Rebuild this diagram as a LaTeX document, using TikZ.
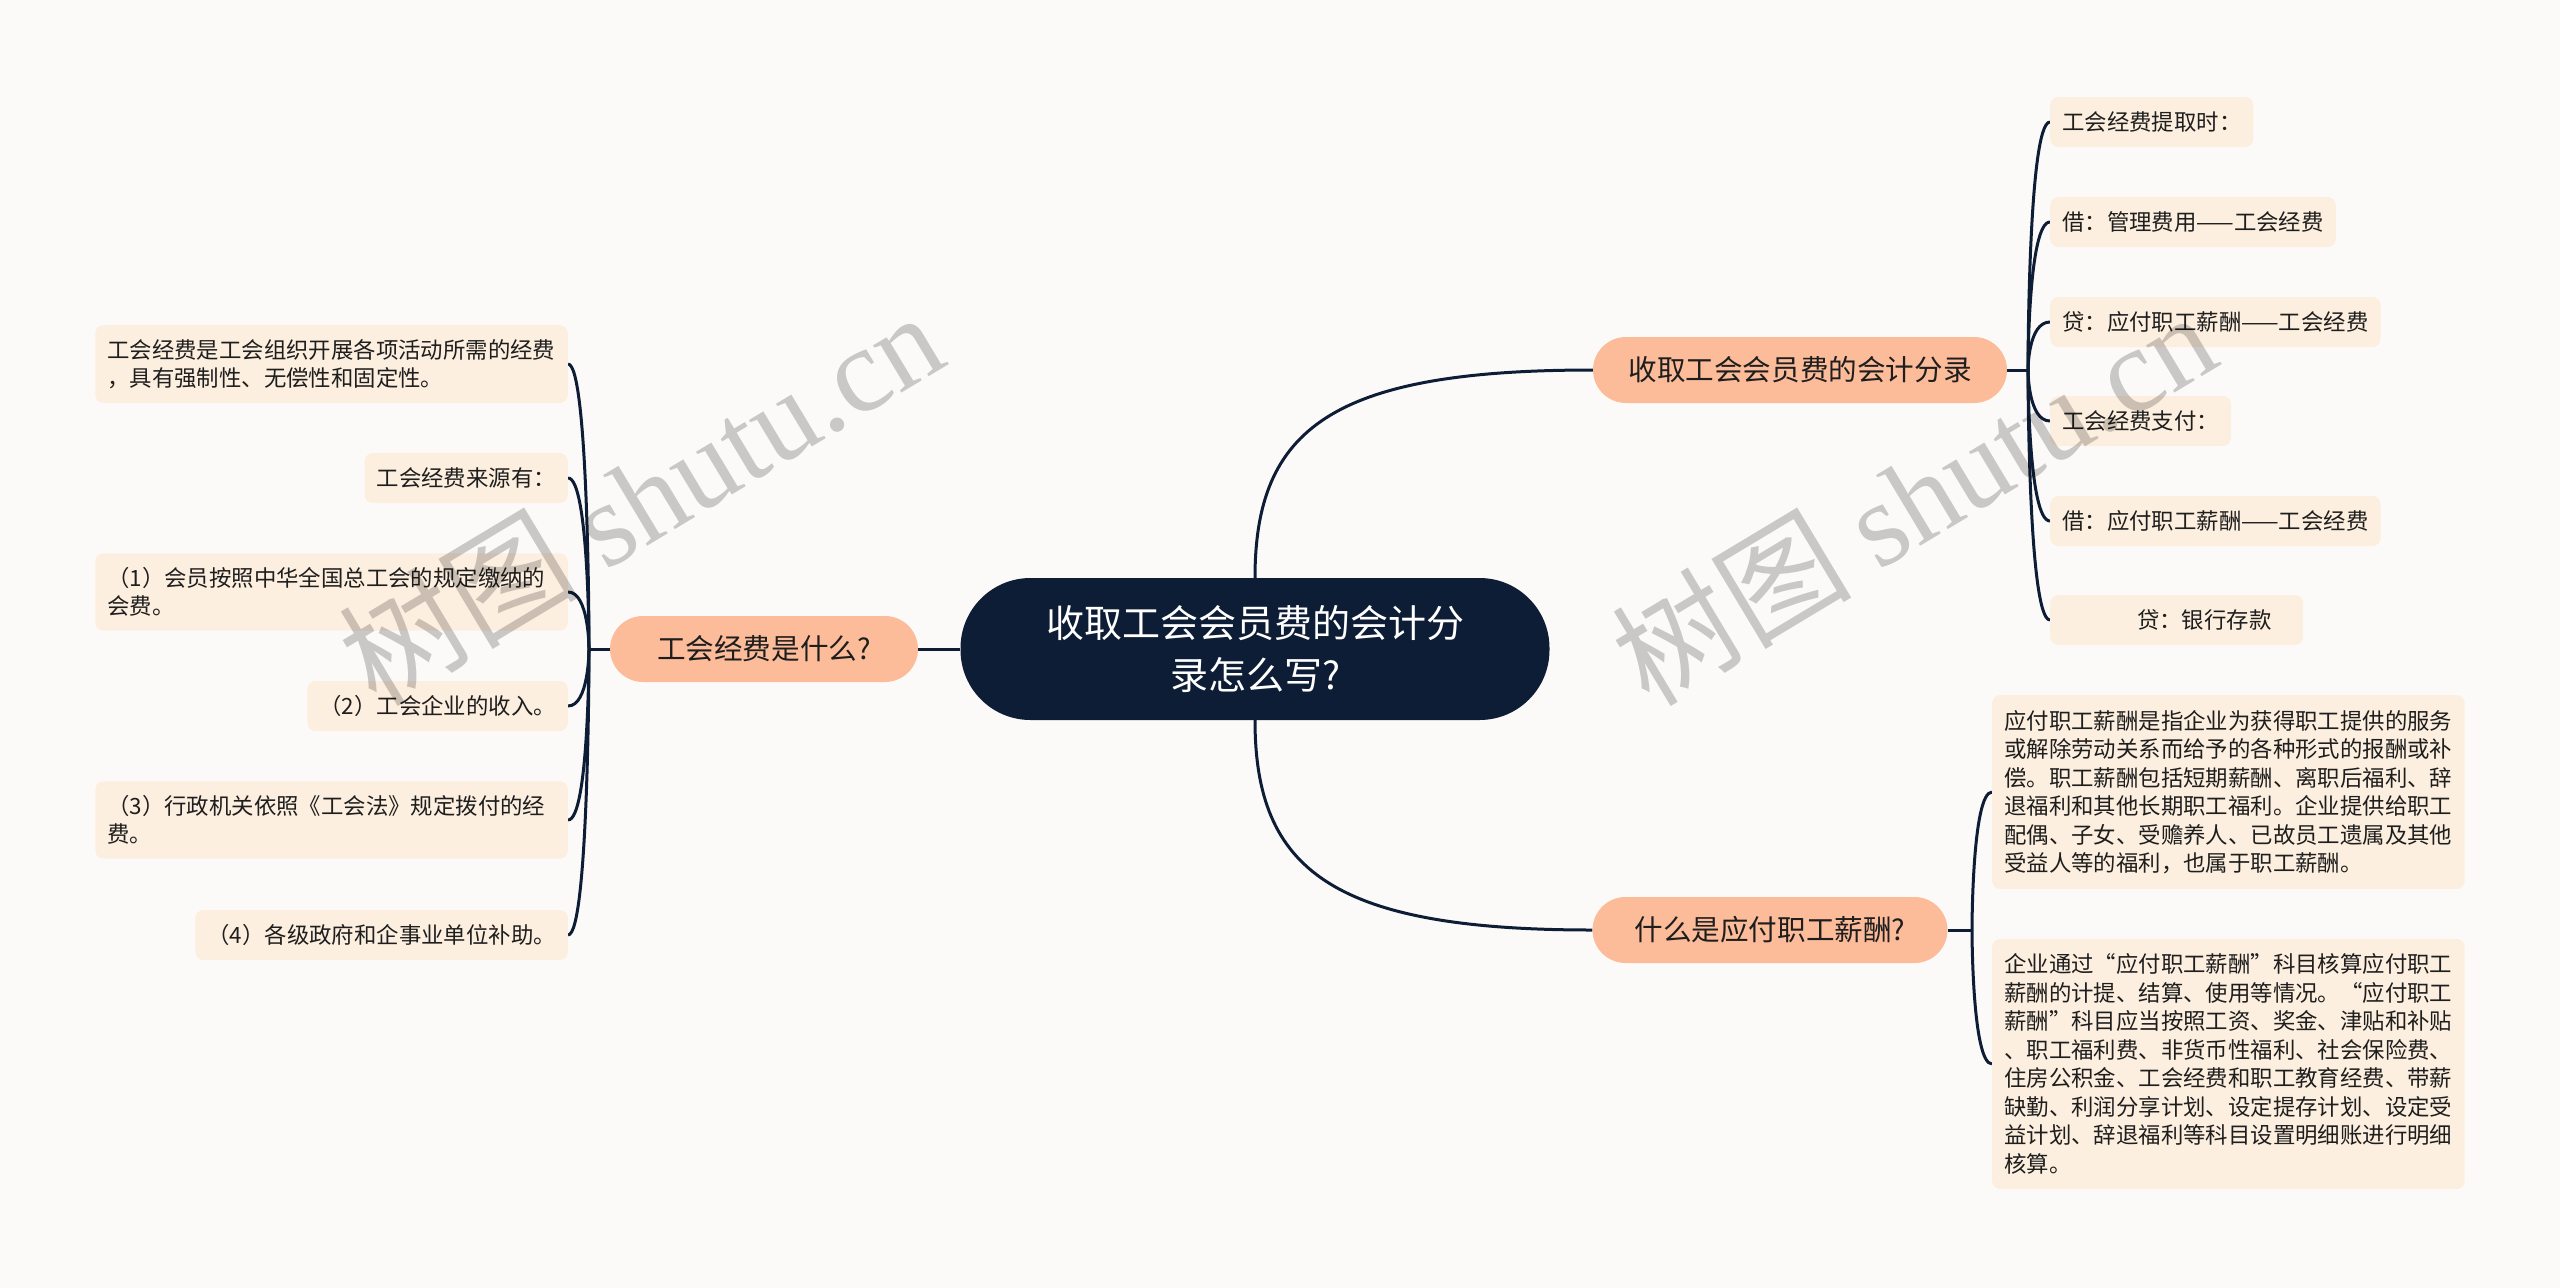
\documentclass[tikz,border=0pt]{standalone}
\usepackage{fontspec}
\setmainfont{Noto Sans CJK SC}
\newfontfamily\wmserif{Liberation Serif}
\usetikzlibrary{calc,backgrounds}
\definecolor{bgc}{HTML}{FCFAF8}
\definecolor{navy}{HTML}{0E1D36}
\definecolor{salmon}{HTML}{FCBC9A}
\definecolor{leafc}{HTML}{FDEFDF}
\definecolor{ink}{HTML}{1E1E1E}
\begin{document}
\begin{tikzpicture}[x=1pt,y=-1pt,
  conn/.style={draw=navy, line width=3pt},
  rootnode/.style={fill=navy, text=white, rounded corners=70pt, minimum width=589pt, minimum height=142pt, align=center, font=\fontsize{38}{52}\selectfont},
  branch/.style={fill=salmon, text=ink, rounded corners=33pt, minimum height=66pt, font=\fontsize{28.6}{34}\selectfont},
  leaf/.style={fill=leafc, text=ink, rounded corners=8pt, inner xsep=12pt, inner ysep=14pt, align=left, font=\fontsize{22.4}{28.5}\selectfont},
  leaf1/.style={leaf, minimum height=50pt},
  leafw/.style={leaf, text width=448.5pt},
  wm/.style={text=black, opacity=0.2, rotate=31, font=\fontsize{120}{120}\selectfont}
]
% root and branches
\node[rootnode] (root) at (1255,649) {收取工会会员费的会计分\\录怎么写?};
\node[branch, minimum width=414pt] (r1) at (1800,370) {收取工会会员费的会计分录};
\node[branch, minimum width=355pt] (r2) at (1770,930) {什么是应付职工薪酬?};
\node[branch, minimum width=308pt] (l1) at (764,649) {工会经费是什么?};

% right branch 1 leaves
\node[leaf1, anchor=west] (a1) at (2050,122) {工会经费提取时：};
\node[leaf1, anchor=west] (a2) at (2050,222) {借：管理费用——工会经费};
\node[leaf1, anchor=west] (a3) at (2050,322) {贷：应付职工薪酬——工会经费};
\node[leaf1, anchor=west] (a4) at (2050,421) {工会经费支付：};
\node[leaf1, anchor=west] (a5) at (2050,521) {借：应付职工薪酬——工会经费};
\node[leaf1, anchor=west, minimum width=253pt] (a6) at (2050,620) {\hspace*{55pt}贷：银行存款};

% right branch 2 leaves
\node[leafw, anchor=west, inner ysep=15pt] (b1) at (1992,792) {应付职工薪酬是指企业为获得职工提供的服务\\或解除劳动关系而给予的各种形式的报酬或补\\偿。职工薪酬包括短期薪酬、离职后福利、辞\\退福利和其他长期职工福利。企业提供给职工\\配偶、子女、受赡养人、已故员工遗属及其他\\受益人等的福利，也属于职工薪酬。};
\node[leafw, anchor=west, inner ysep=15pt] (b2) at (1992,1064) {企业通过“应付职工薪酬”科目核算应付职工\\薪酬的计提、结算、使用等情况。“应付职工\\薪酬”科目应当按照工资、奖金、津贴和补贴\\、职工福利费、非货币性福利、社会保险费、\\住房公积金、工会经费和职工教育经费、带薪\\缺勤、利润分享计划、设定提存计划、设定受\\益计划、辞退福利等科目设置明细账进行明细\\核算。};

% left leaves
\node[leafw, anchor=east] (c1) at (568,364) {工会经费是工会组织开展各项活动所需的经费\\，具有强制性、无偿性和固定性。};
\node[leaf1, anchor=east] (c2) at (568,478) {工会经费来源有：};
\node[leafw, anchor=east] (c3) at (568,592) {（1）会员按照中华全国总工会的规定缴纳的\\会费。};
\node[leaf1, anchor=east] (c4) at (568,706) {（2）工会企业的收入。};
\node[leafw, anchor=east] (c5) at (568,820) {（3）行政机关依照《工会法》规定拨付的经\\费。};
\node[leaf1, anchor=east] (c6) at (568,935) {（4）各级政府和企事业单位补助。};

\coordinate (jr1) at (2028,370);
\coordinate (jr2) at (1972,930);
\coordinate (jl) at (589,649);

\begin{pgfonlayer}{background}
\fill[bgc] (0,0) rectangle (2560,1288);
\draw[conn] (root.north) .. controls ($(root.north)+(0,-150)$) and ($(r1.west)+(-260,0)$) .. (r1.west);
\draw[conn] (root.south) .. controls ($(root.south)+(0,150)$) and ($(r2.west)+(-260,0)$) .. (r2.west);
\draw[conn] (root.west) -- (l1.east);
\draw[conn] (r1.east) -- (jr1);
\draw[conn] (r2.east) -- (jr2);
\draw[conn] (l1.west) -- (jl);
\foreach \n in {a1,a2,a3,a4,a5,a6}
  \draw[conn] (jr1) .. controls (jr1) and (jr1 |- \n.west) .. (\n.west);
\foreach \n in {b1,b2}
  \draw[conn] (jr2) .. controls (jr2) and (jr2 |- \n.west) .. (\n.west);
\foreach \n in {c1,c2,c3,c4,c5,c6}
  \draw[conn] (jl) .. controls (jl) and (jl |- \n.east) .. (\n.east);
\end{pgfonlayer}

% watermarks
\node[wm] (w1) at (640,497) {树图 {\wmserif shutu.cn}};
\node[wm] (w2) at (1913,497) {树图 {\wmserif shutu.cn}};
\end{tikzpicture}
\end{document}
